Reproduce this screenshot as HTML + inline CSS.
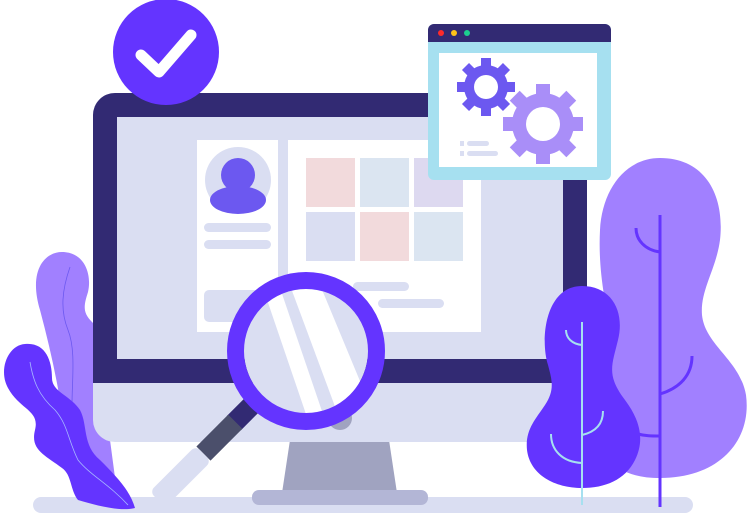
<!DOCTYPE html>
<html><head><meta charset="utf-8"><style>html,body{margin:0;padding:0;background:#fff}svg{display:block}</style></head>
<body>
<svg width="751" height="515" viewBox="0 0 751 515" xmlns="http://www.w3.org/2000/svg">
<defs><clipPath id="lens"><circle cx="306" cy="351" r="62"/></clipPath></defs>
<!-- floor -->
<rect x="33" y="497" width="660" height="16" rx="8" fill="#dadef2"/>
<!-- left plants -->
<path d="M62 252 C85 252 92 275 88 292 C84 305 82 312 92 322 L100 330 L110 440 L118 500 L95 490 C80 470 65 430 60 400 C55 370 48 340 40 310 C28 270 45 252 62 252 Z" fill="#a180ff"/>
<path d="M70 267 C62 290 60 310 68 330 C76 350 72 380 72 405 C74 430 85 450 100 470" fill="none" stroke="#6c58f0" stroke-width="0.8"/>
<path d="M25 344 C45 342 52 360 52 378 C52 392 70 395 80 410 C88 425 82 445 100 460 C115 475 130 490 135 508 C120 512 95 505 78 500 C70 490 72 475 62 468 C45 455 30 450 35 430 C40 410 20 410 8 388 C-2 370 8 345 25 344 Z" fill="#6434ff"/>
<path d="M30 362 C33 380 38 395 55 410 C68 425 68 440 78 460 C90 475 110 485 128 505" fill="none" stroke="#a6b8ff" stroke-width="0.8"/>
<!-- stand -->
<polygon points="290,440 389,440 397,493 282,493" fill="#a0a3c0"/>
<rect x="252" y="490" width="176" height="15" rx="7" fill="#b3b6d6"/>
<!-- monitor -->
<rect x="93" y="93" width="494" height="349" rx="22" fill="#dadef2"/>
<path d="M115 93 H565 A22 22 0 0 1 587 115 V383 H93 V115 A22 22 0 0 1 115 93 Z" fill="#322a73"/>
<rect x="117" y="117" width="446" height="242" fill="#dadef2"/>
<!-- cards -->
<rect x="197" y="140" width="81" height="192" fill="#fff"/>
<rect x="288" y="140" width="193" height="192" fill="#fff"/>
<circle cx="238" cy="180" r="33" fill="#dadef2"/>
<circle cx="238" cy="175" r="17" fill="#6c58f0"/>
<ellipse cx="238" cy="200" rx="28" ry="14" fill="#6c58f0"/>
<rect x="204" y="223" width="67" height="9" rx="4.5" fill="#dadef2"/>
<rect x="204" y="240" width="67" height="9" rx="4.5" fill="#dadef2"/>
<rect x="204" y="290" width="56" height="32" rx="5" fill="#dadef2"/>
<rect x="306" y="158" width="49" height="49" fill="#f2dadc"/>
<rect x="360" y="158" width="49" height="49" fill="#dbe5f1"/>
<rect x="414" y="158" width="49" height="49" fill="#ddd9f0"/>
<rect x="306" y="212" width="49" height="49" fill="#dadef2"/>
<rect x="360" y="212" width="49" height="49" fill="#f2dadc"/>
<rect x="414" y="212" width="49" height="49" fill="#dbe5f1"/>
<rect x="353" y="282" width="56" height="9" rx="4.5" fill="#dadef2"/>
<rect x="378" y="299" width="66" height="9" rx="4.5" fill="#dadef2"/>
<!-- check circle -->
<circle cx="166" cy="52" r="53" fill="#6434ff"/>
<path d="M141 55 L159 72 L191 35" fill="none" stroke="#fff" stroke-width="11" stroke-linecap="round" stroke-linejoin="round"/>
<!-- window -->
<rect x="428" y="24" width="183" height="156" rx="6" fill="#a6e0f0"/>
<path d="M434 24 H605 A6 6 0 0 1 611 30 V42 H428 V30 A6 6 0 0 1 434 24 Z" fill="#322a73"/>
<rect x="439" y="53" width="158" height="114" fill="#fff"/>
<circle cx="441" cy="33" r="3" fill="#ff2a2a"/>
<circle cx="454" cy="33" r="3" fill="#ffc21a"/>
<circle cx="467" cy="33" r="3" fill="#1ccf8f"/>
<g fill="#6c58f0" transform="translate(486,87)">
<circle r="22"/>
<g><rect x="-5" y="-29" width="10" height="58"/><rect x="-5" y="-29" width="10" height="58" transform="rotate(45)"/><rect x="-5" y="-29" width="10" height="58" transform="rotate(90)"/><rect x="-5" y="-29" width="10" height="58" transform="rotate(135)"/></g>
<circle r="12" fill="#fff"/>
</g>
<g fill="#a98ef8" transform="translate(543,124)">
<circle r="31"/>
<g><rect x="-7" y="-40" width="14" height="80"/><rect x="-7" y="-40" width="14" height="80" transform="rotate(45)"/><rect x="-7" y="-40" width="14" height="80" transform="rotate(90)"/><rect x="-7" y="-40" width="14" height="80" transform="rotate(135)"/></g>
<circle r="17" fill="#fff"/>
</g>
<rect x="460" y="141" width="4" height="5" fill="#dadef2"/><rect x="467" y="141" width="22" height="5" rx="2.5" fill="#dadef2"/>
<rect x="460" y="151" width="4" height="5" fill="#dadef2"/><rect x="467" y="151" width="31" height="5" rx="2.5" fill="#dadef2"/>
<!-- magnifier -->
<circle cx="340" cy="418" r="12" fill="#a0a3c0"/>
<g transform="translate(306,351) rotate(135)">
<rect x="70" y="-10" width="32" height="20" fill="#322a73"/>
<rect x="100" y="-10" width="45" height="20" fill="#4b4f6b"/>
<rect x="145" y="-11" width="65" height="22" rx="6" fill="#dadef2"/>
</g>
<circle cx="306" cy="351" r="62" fill="#dadef2"/>
<g clip-path="url(#lens)" fill="#fff">
<polygon points="262,285 279,285 325,420 308,420"/>
<polygon points="288,280 318,280 372,410 340,420"/>
</g>
<circle cx="306" cy="351" r="70.5" fill="none" stroke="#6434ff" stroke-width="17"/>
<!-- right big tree -->
<path d="M660 158 C705 158 725 195 720 240 C716 270 700 290 702 315 C705 345 740 360 746 395 C752 440 720 478 660 478 C620 478 600 460 600 430 C600 400 615 370 610 330 C605 300 598 270 600 230 C602 190 625 158 660 158 Z" fill="#a180ff"/>
<g fill="none" stroke="#6434ff" stroke-width="3">
<line x1="660" y1="215" x2="660" y2="507"/>
<path d="M636 228 C636 240 645 250 660 252"/>
<path d="M692 356 C692 375 680 388 660 394"/>
<path d="M638 434 C645 436 652 436 660 436"/>
</g>
<!-- small tree -->
<path d="M582 286 C612 286 625 312 618 340 C612 365 606 375 625 400 C640 420 645 440 635 460 C625 480 605 488 582 488 C555 488 530 475 527 450 C525 430 535 420 545 405 C555 390 552 380 548 365 C540 340 545 286 582 286 Z" fill="#6434ff"/>
<g fill="none" stroke="#a6e0f0" stroke-width="2">
<line x1="582" y1="322" x2="582" y2="505"/>
<path d="M566 330 C566 338 572 344 582 345"/>
<path d="M603 411 C603 425 595 432 582 435"/>
<path d="M551 434 C551 450 562 462 582 463"/>
</g>
</svg>
</body></html>
